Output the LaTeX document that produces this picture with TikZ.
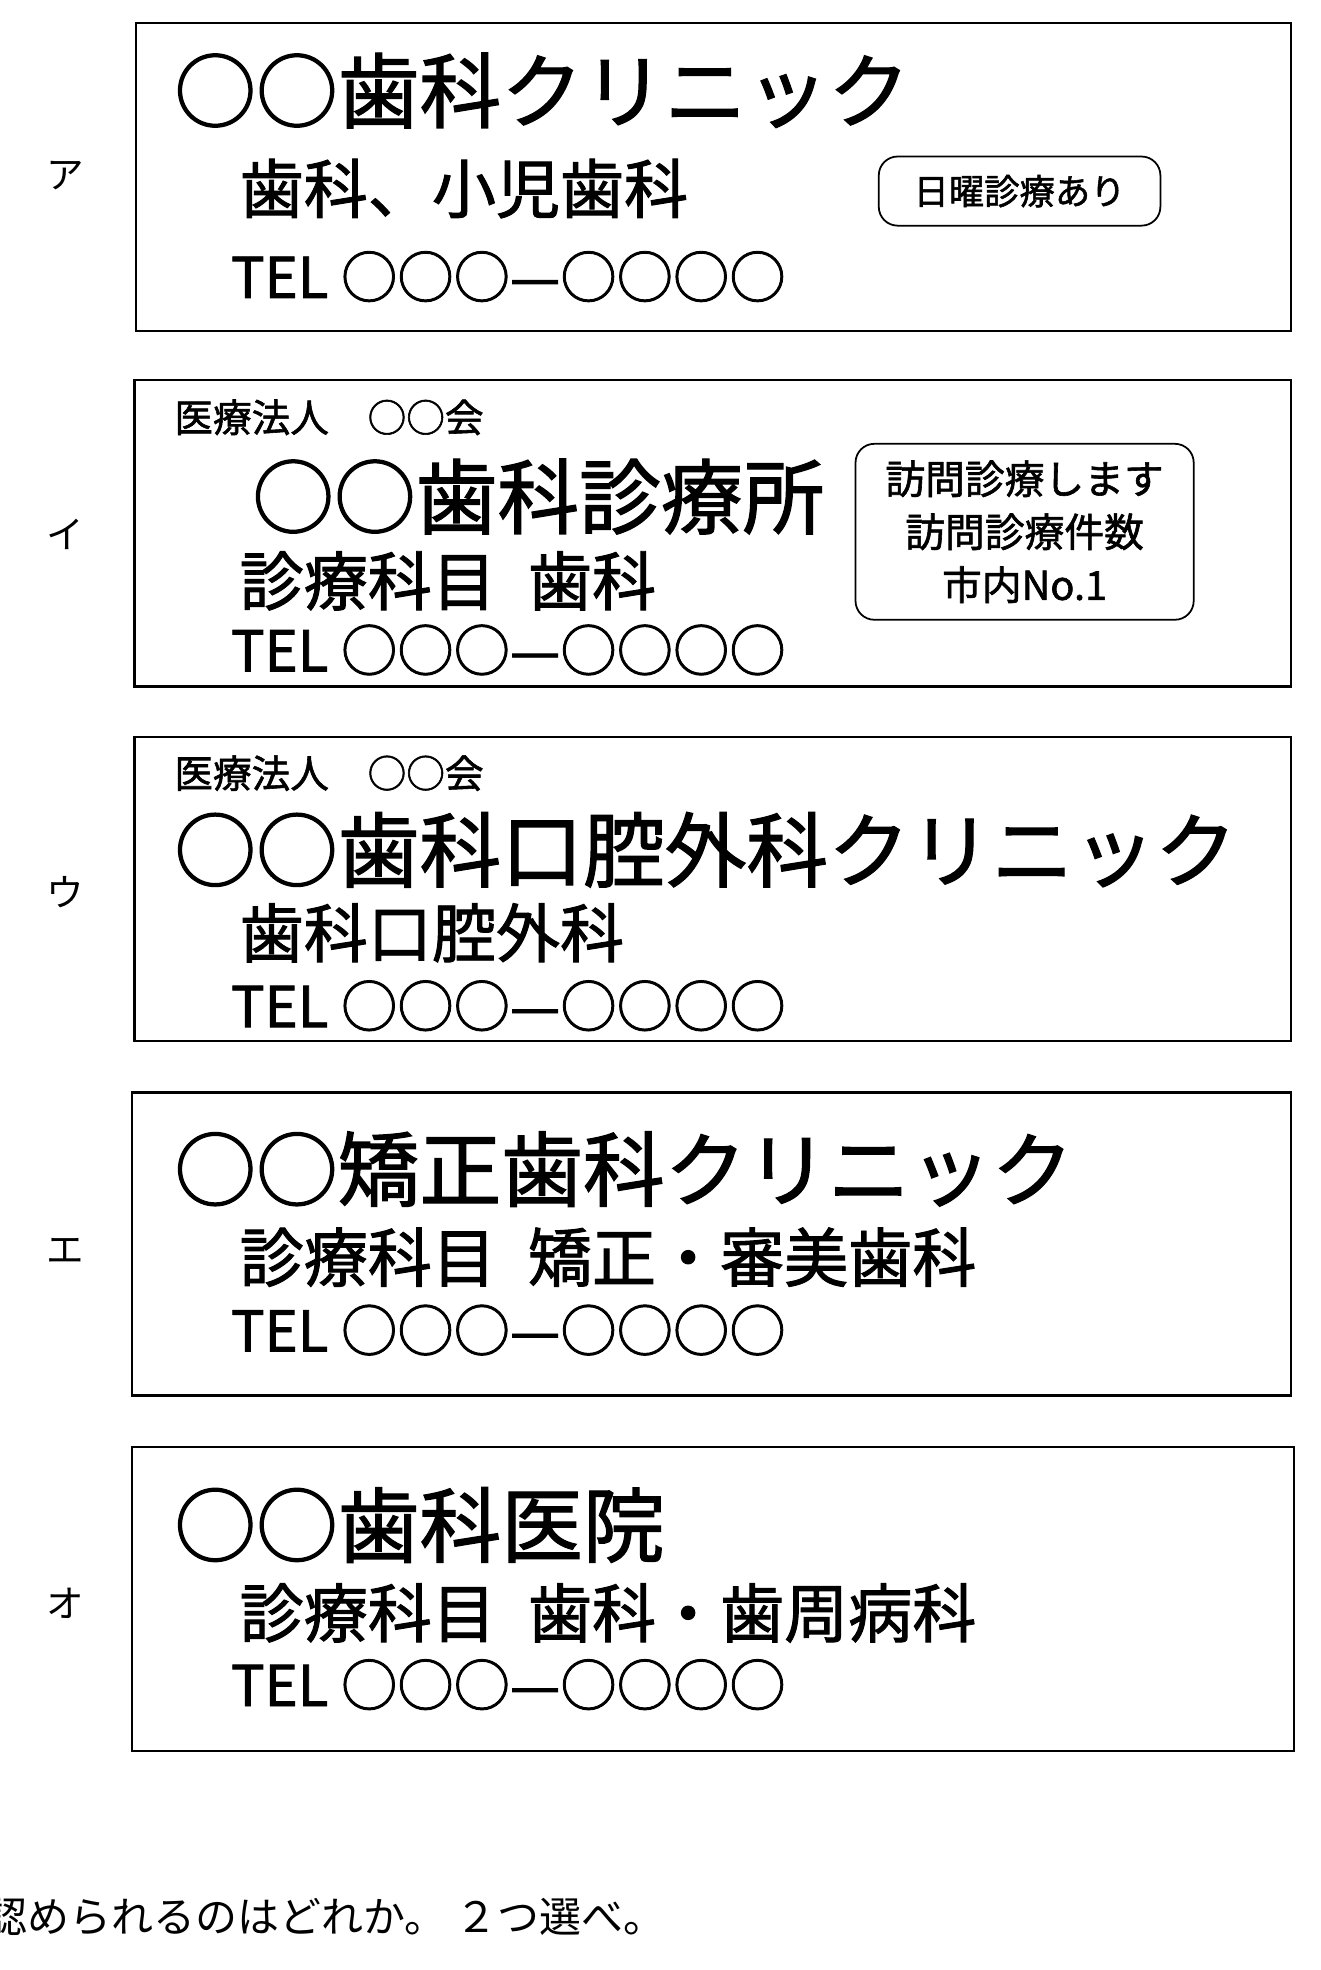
\documentclass[tikz,border=0pt]{standalone}
\usepackage{fontspec}
\setmainfont{Noto Sans CJK JP}
\newfontfamily\jpbold{Noto Sans CJK JP}[FakeBold=1.5]
\begin{document}
\begin{tikzpicture}
[ x=0.02cm, y=-0.02cm, thick
, card/.style={draw, line width=1pt}
, txt/.style={anchor=west, inner sep=0pt, font=\jpbold#1}
, badge/.style={draw, rounded corners=3mm, line width=0.8pt, align=center, inner sep=4pt}
, choice/.style={inner sep=0pt, font=\fontsize{17}{20}\selectfont}
]
\useasboundingbox (0,0) rectangle (1050,1567);
% card A
\draw[card] (108,18) rectangle (1027,263);
\node (markA) [choice] at (52,140) {ア};
\node (titleA) [txt={\fontsize{37}{40}\selectfont}] at (138,72) {○○歯科クリニック};
\node (subA) [txt={\fontsize{29}{32}\selectfont}] at (190,150) {歯科、小児歯科};
\node (telA) [txt={\fontsize{25.5}{28}\selectfont}] at (183,220) {TEL ○○○—○○○○};
\node (badgeA) [badge, font=\jpbold\fontsize{16}{19}\selectfont, minimum height=1.1cm, text width=4.2cm] at (811,152) {日曜診療あり};
% card I
\draw[card] (107,302) rectangle (1027,546);
\node (markI) [choice] at (52,425) {イ};
\node (corpI) [txt={\fontsize{17.5}{20}\selectfont}] at (138,332) {医療法人　○○会};
\node (titleI) [txt={\fontsize{37}{40}\selectfont}] at (200,395) {○○歯科診療所};
\node (subI) [txt={\fontsize{29}{32}\selectfont}] at (190,462) {診療科目\,\,\,歯科};
\node (telI) [txt={\fontsize{25.5}{28}\selectfont}] at (183,517) {TEL ○○○—○○○○};
\node (badgeI) [badge, font=\jpbold\fontsize{18}{24}\selectfont, text width=5.1cm, minimum height=2.8cm] at (815,423) {訪問診療します\\訪問診療件数\\市内No.1};
% card U
\draw[card] (107,586) rectangle (1027,828);
\node (markU) [choice] at (52,710) {ウ};
\node (corpU) [txt={\fontsize{17.5}{20}\selectfont}] at (138,615) {医療法人　○○会};
\node (titleU) [txt={\fontsize{37}{40}\selectfont}] at (138,676) {○○歯科口腔外科クリニック};
\node (subU) [txt={\fontsize{29}{32}\selectfont}] at (190,742) {歯科口腔外科};
\node (telU) [txt={\fontsize{25.5}{28}\selectfont}] at (183,800) {TEL ○○○—○○○○};
% card E
\draw[card] (105,869) rectangle (1027,1110);
\node (markE) [choice] at (52,995) {エ};
\node (titleE) [txt={\fontsize{37}{40}\selectfont}] at (138,930) {○○矯正歯科クリニック};
\node (subE) [txt={\fontsize{29}{32}\selectfont}] at (190,1000) {診療科目\,\,\,矯正・審美歯科};
\node (telE) [txt={\fontsize{25.5}{28}\selectfont}] at (183,1058) {TEL ○○○—○○○○};
% card O
\draw[card] (105,1151) rectangle (1029,1393);
\node (markO) [choice] at (52,1275) {オ};
\node (titleO) [txt={\fontsize{37}{40}\selectfont}] at (138,1213) {○○歯科医院};
\node (subO) [txt={\fontsize{29}{32}\selectfont}] at (190,1283) {診療科目\,\,\,歯科・歯周病科};
\node (telO) [txt={\fontsize{25.5}{28}\selectfont}] at (183,1340) {TEL ○○○—○○○○};
% question
\node (ask) [anchor=west, inner sep=0pt, font=\fontsize{19}{22}\selectfont] at (-12,1525) {認められるのはどれか。 ２つ選べ。};
\end{tikzpicture}
\end{document}
